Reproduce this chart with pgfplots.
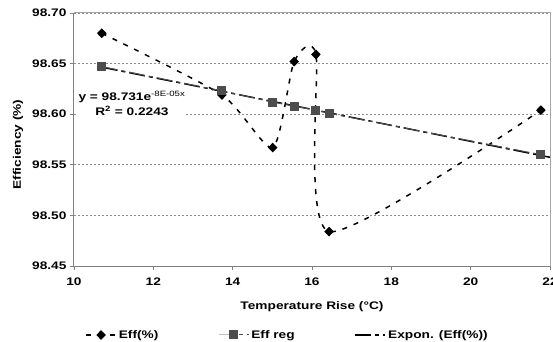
\documentclass[border=0pt]{standalone}
\usepackage{pgfplots}
\pgfplotsset{compat=1.18}
\usepackage{fontspec}
\setmainfont[FakeStretch=1.25]{Liberation Sans}

\definecolor{axisgray}{HTML}{808080}
\definecolor{bordergray}{HTML}{A6A6A6}
\definecolor{gridgray}{HTML}{8C8C8C}
\definecolor{regfill}{HTML}{4D4D4D}

\tikzset{
  effstyle/.style={black, line width=1.5bp, dash pattern=on 5bp off 7bp, mark=diamond*, mark size=3.8bp, mark options={solid, fill=black, draw=black, xscale=1.3}},
  regstyle/.style={regfill, line width=1bp, dash pattern=on 16bp off 4bp on 4bp off 4bp, mark=square*, mark size=4bp, mark options={solid, fill=regfill, draw=regfill}},
  trendstyle/.style={black, line width=1.5bp, dash pattern=on 16bp off 4bp on 4bp off 4bp},
}

\begin{document}
\begin{tikzpicture}
\begin{axis}[
  name=ax,
  anchor=south west, at={(0,0)},
  scale only axis,
  width=476bp, height=253bp,
  xmin=10, xmax=22, ymin=98.45, ymax=98.70,
  xtick={10,12,14,16,18,20,22},
  ytick={98.45,98.50,98.55,98.60,98.65,98.70},
  yticklabel style={/pgf/number format/.cd, fixed, fixed zerofill, precision=2},
  /pgf/number format/assume math mode=true,
  tick label style={font=\fontsize{11}{13}\selectfont\bfseries, text=black},
  xticklabel style={yshift=-4bp},
  tick align=outside,
  major tick length=4bp,
  tick style={axisgray, line width=0.8bp},
  axis x line*=bottom, axis y line*=left,
  axis line style={axisgray, line width=1bp, -},
  ymajorgrids,
  grid style={gridgray, line width=0.7bp, dash pattern=on 2bp off 2bp},
  xlabel={Temperature Rise (°C)},
  ylabel={Efficiency (\%)},
  label style={font=\fontsize{11}{13}\selectfont\bfseries},
  xlabel style={at={(axis description cs:0.5,-0.162)}, anchor=center},
  ylabel style={at={(axis description cs:-0.1176,0.48)}, anchor=center},
  legend columns=3,
  legend cell align=left,
  legend image code/.code={\draw[mark repeat=2, mark phase=2, #1] plot coordinates {(0bp,0bp) (15bp,0bp) (30bp,0bp)};},
  legend style={draw=none, fill=none, at={(axis description cs:0.4485,-0.2727)}, anchor=center,
    font=\fontsize{11}{13}\selectfont\bfseries,
    /tikz/every even column/.append style={column sep=58bp}},
]
% exponential trendline (drawn first, below the series)
\addplot[trendstyle, forget plot] coordinates {(10.70,98.6465) (16.35,98.6020) (22.00,98.5574)};

\addplot[effstyle, smooth, tension=0.4] coordinates {
  (10.70,98.680) (13.73,98.619) (15.01,98.567) (15.55,98.652)
  (16.10,98.659) (16.43,98.484) (21.77,98.604)};
\addlegendentry{Eff(\%)}

\addplot[regstyle] coordinates {
  (10.70,98.647) (13.73,98.623) (15.01,98.612) (15.55,98.608)
  (16.10,98.604) (16.43,98.601) (21.77,98.560)};
\addlegendentry{Eff reg}

\addlegendimage{trendstyle}
\addlegendentry{Expon. (Eff(\%))}

\node[fill=white, inner sep=0.5bp, align=center, font=\fontsize{11}{15}\selectfont\bfseries]
  at (axis cs:11.46,98.6105) {y = 98.731e\textsuperscript{\mdseries -8E-05x}\\R\textsuperscript{2} = 0.2243};
\end{axis}
\draw[bordergray, line width=1bp] (ax.north west) -- (ax.north east) -- (ax.south east);
\pgfresetboundingbox
\path[use as bounding box] (-74bp,-76bp) rectangle (479bp,266bp);
\end{tikzpicture}
\end{document}
